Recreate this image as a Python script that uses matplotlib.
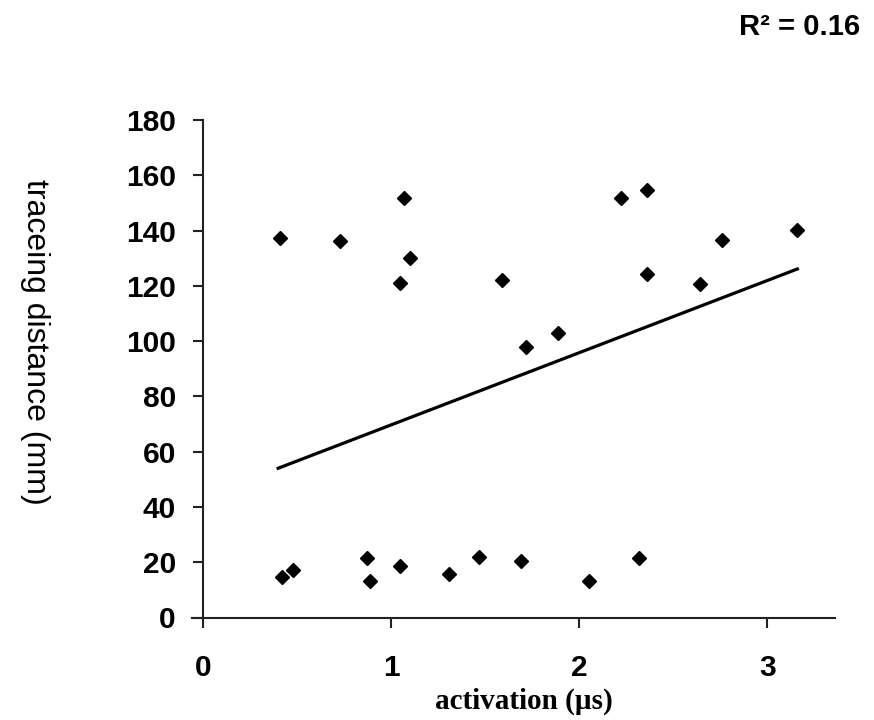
import matplotlib
matplotlib.use("Agg")
import matplotlib.pyplot as plt

# activation (us) vs traceing distance (mm)
activation = [0.41, 0.73, 1.07, 1.10, 1.05, 1.59, 2.22, 2.36, 2.36, 2.64, 2.76, 3.16, 1.89, 1.72,
              0.42, 0.48, 0.87, 0.89, 1.05, 1.31, 1.47, 1.69, 2.05, 2.32]
distance = [137.4, 136.2, 151.9, 130.2, 121.1, 122.0, 151.8, 154.6, 124.3, 120.8, 136.5, 140.2, 103.0, 98.0,
            14.6, 17.3, 21.6, 13.3, 18.5, 15.7, 22.0, 20.6, 13.2, 21.5]

# linear trend line end points
trend_x = [0.40, 3.16]
trend_y = [54.0, 126.1]

x_ticks = [0, 1, 2, 3]
y_ticks = [0, 20, 40, 60, 80, 100, 120, 140, 160, 180]

fig = plt.figure(figsize=(8.74, 7.2), dpi=100)
ax = fig.add_axes([192 / 874, 102.5 / 720, 643 / 874, 497.5 / 720])

ax.plot(activation, distance, linestyle="none", marker="D", markersize=7.5, color="black")
ax.plot(trend_x, trend_y, color="black", linewidth=2.3)

ax.set_xlim(-0.058, 3.36)
ax.set_ylim(0, 180)
ax.set_xticks(x_ticks)
ax.set_yticks(y_ticks)

for s in ["top", "right"]:
    ax.spines[s].set_visible(False)
ax.spines["left"].set_position(("data", 0))
for s in ["left", "bottom"]:
    ax.spines[s].set_linewidth(1.5)
    ax.spines[s].set_color("#222222")

ax.tick_params(axis="y", direction="out", length=7.5, width=1.5, pad=12, colors="#222222")
ax.tick_params(axis="x", direction="out", length=7.5, width=1.5, pad=19, colors="#222222")
for lab in ax.get_xticklabels() + ax.get_yticklabels():
    lab.set_fontfamily("Liberation Sans")
    lab.set_fontweight("bold")
    lab.set_fontsize(21.5)
    lab.set_color("black")

ax.set_xlabel("activation (\u00b5s)", fontsize=21, fontweight="bold", family="Liberation Serif")
ax.xaxis.set_label_coords((524 - 192) / 643, (617.5 - 701) / 497.5)
ax.xaxis.label.set_va("center")

fig.text(35 / 874, 1 - 342 / 720, "traceing distance (mm)", rotation=-90, ha="center", va="center",
         fontsize=23, family="Liberation Sans")
fig.text(800 / 874, 1 - 27 / 720, "R\u00b2 = 0.16", ha="center", va="center",
         fontsize=21, fontweight="bold", family="Liberation Sans")

fig.savefig("out.png", dpi=100)
